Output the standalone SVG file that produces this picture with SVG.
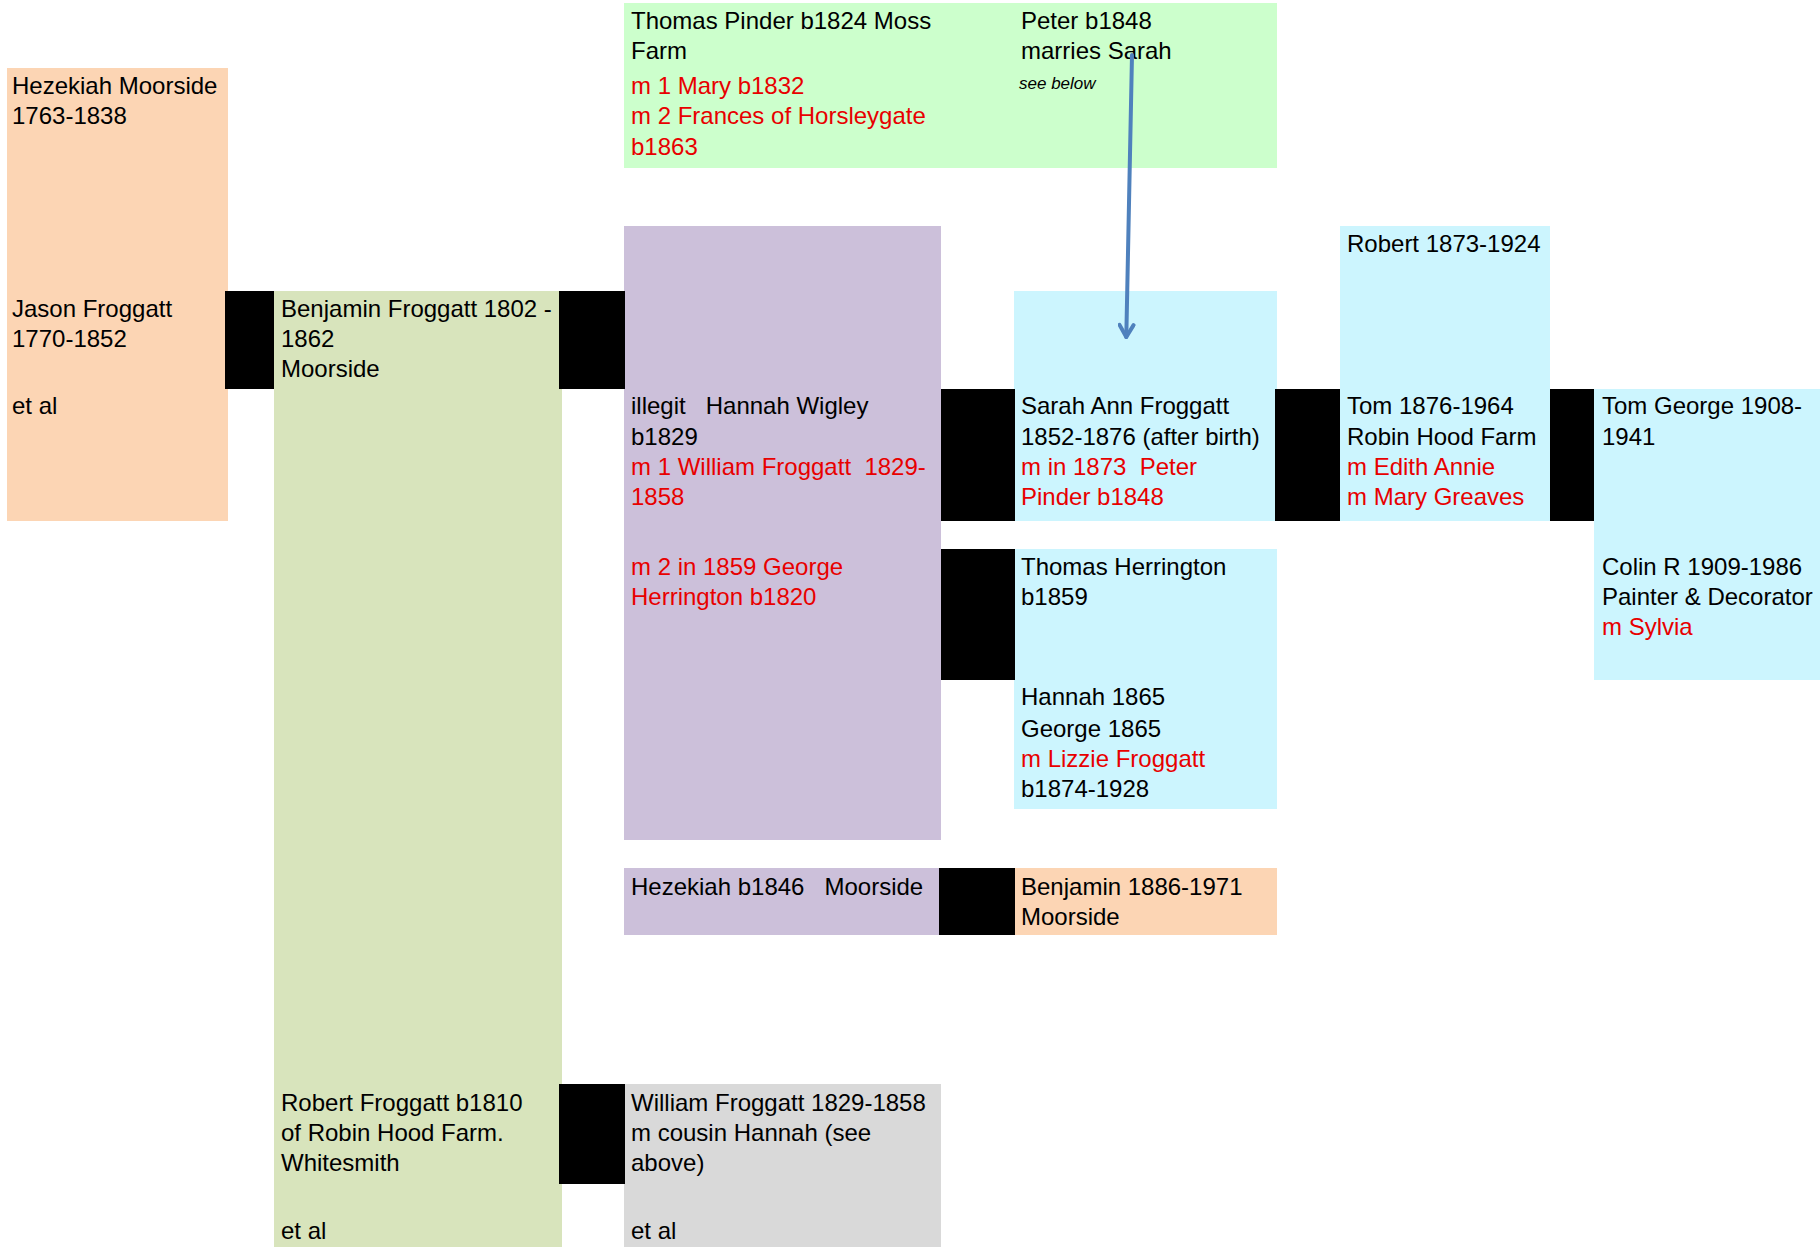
<svg xmlns="http://www.w3.org/2000/svg" width="1820" height="1247" viewBox="0 0 1820 1247">
<defs>
<style>
text{font-family:"Liberation Sans",Arial,sans-serif;font-size:24px;fill:#000}
.r{fill:#E80000}
.sm{font-size:17px;font-style:italic}
.peach{fill:#FCD5B4}
.olive{fill:#D8E4BC}
.lilac{fill:#CCC0DA}
.mint{fill:#CCFFCC}
.cyan{fill:#CCF5FE}
.grey{fill:#D9D9D9}
.blk{fill:#000}
</style>
<marker id="ah" markerWidth="18" markerHeight="18" refX="15" refY="9" orient="auto" markerUnits="userSpaceOnUse" viewBox="0 0 18 18">
<path d="M3,2 L15,9 L3,16" fill="none" stroke="#4F81BD" stroke-width="4" stroke-linecap="round" stroke-linejoin="round"/>
</marker>
</defs>
<rect width="1820" height="1247" fill="#fff"/>

<g id="n-hezekiah-jason">
<rect class="peach" x="7" y="68" width="221" height="453"/>
<text x="12" y="94">Hezekiah Moorside</text>
<text x="12" y="124">1763-1838</text>
<text x="12" y="317">Jason Froggatt</text>
<text x="12" y="347">1770-1852</text>
<text x="12" y="414">et al</text>
</g>

<g id="n-benjamin-robert">
<rect class="olive" x="274" y="291" width="288" height="956"/>
<text x="281" y="317">Benjamin Froggatt 1802 -</text>
<text x="281" y="347">1862</text>
<text x="281" y="377">Moorside</text>
<text x="281" y="1111">Robert Froggatt b1810</text>
<text x="281" y="1141">of Robin Hood Farm.</text>
<text x="281" y="1171">Whitesmith</text>
<text x="281" y="1239">et al</text>
</g>

<g id="n-pinder">
<rect class="mint" x="624" y="3" width="653" height="165"/>
<text x="631" y="29">Thomas Pinder b1824 Moss</text>
<text x="631" y="59">Farm</text>
<text class="r" x="631" y="94">m 1 Mary b1832</text>
<text class="r" x="631" y="124">m 2 Frances of Horsleygate</text>
<text class="r" x="631" y="155">b1863</text>
<text x="1021" y="29">Peter b1848</text>
<text x="1021" y="59">marries Sarah</text>
<text class="sm" x="1019" y="89">see below</text>
</g>

<g id="n-hannah">
<rect class="lilac" x="624" y="226" width="317" height="614"/>
<text x="631" y="414" xml:space="preserve">illegit   Hannah Wigley</text>
<text x="631" y="445">b1829</text>
<text class="r" x="631" y="475" xml:space="preserve">m 1 William Froggatt  1829-</text>
<text class="r" x="631" y="505">1858</text>
<text class="r" x="631" y="575">m 2 in 1859 George</text>
<text class="r" x="631" y="605">Herrington b1820</text>
</g>

<g id="n-sarah">
<rect class="cyan" x="1014" y="291" width="263" height="230"/>
<text x="1021" y="414">Sarah Ann Froggatt</text>
<text x="1021" y="445">1852-1876 (after birth)</text>
<text class="r" x="1021" y="475" xml:space="preserve">m in 1873  Peter</text>
<text class="r" x="1021" y="505">Pinder b1848</text>
</g>

<g id="n-robert-tom">
<rect class="cyan" x="1340" y="226" width="210" height="295"/>
<text x="1347" y="252">Robert 1873-1924</text>
<text x="1347" y="414">Tom 1876-1964</text>
<text x="1347" y="445">Robin Hood Farm</text>
<text class="r" x="1347" y="475">m Edith Annie</text>
<text class="r" x="1347" y="505">m Mary Greaves</text>
</g>

<g id="n-tomgeorge-colin">
<rect class="cyan" x="1594" y="389" width="226" height="291"/>
<text x="1602" y="414">Tom George 1908-</text>
<text x="1602" y="445">1941</text>
<text x="1602" y="575">Colin R 1909-1986</text>
<text x="1602" y="605">Painter &amp; Decorator</text>
<text class="r" x="1602" y="635">m Sylvia</text>
</g>

<g id="n-herrington">
<rect class="cyan" x="1014" y="549" width="263" height="260"/>
<text x="1021" y="575">Thomas Herrington</text>
<text x="1021" y="605">b1859</text>
<text x="1021" y="705">Hannah 1865</text>
<text x="1021" y="737">George 1865</text>
<text class="r" x="1021" y="767">m Lizzie Froggatt</text>
<text x="1021" y="797">b1874-1928</text>
</g>

<g id="n-hezekiah-1846">
<rect class="lilac" x="624" y="868" width="317" height="67"/>
<text x="631" y="895" xml:space="preserve">Hezekiah b1846   Moorside</text>
</g>

<g id="n-benjamin-1886">
<rect class="peach" x="1014" y="868" width="263" height="67"/>
<text x="1021" y="895">Benjamin 1886-1971</text>
<text x="1021" y="925">Moorside</text>
</g>

<g id="n-william">
<rect class="grey" x="624" y="1084" width="317" height="163"/>
<text x="631" y="1111">William Froggatt 1829-1858</text>
<text x="631" y="1141">m cousin Hannah (see</text>
<text x="631" y="1171">above)</text>
<text x="631" y="1239">et al</text>
</g>

<g id="connectors">
<rect class="blk" x="225" y="291" width="49" height="98"/>
<rect class="blk" x="559" y="291" width="66" height="98"/>
<rect class="blk" x="941" y="389" width="74" height="132"/>
<rect class="blk" x="1275" y="389" width="65" height="132"/>
<rect class="blk" x="1550" y="389" width="44" height="132"/>
<rect class="blk" x="941" y="549" width="74" height="131"/>
<rect class="blk" x="939" y="868" width="76" height="67"/>
<rect class="blk" x="559" y="1084" width="66" height="100"/>
<line x1="1132" y1="55" x2="1126.3" y2="337" stroke="#4F81BD" stroke-width="4" stroke-linecap="round" marker-end="url(#ah)"/>
</g>
</svg>
